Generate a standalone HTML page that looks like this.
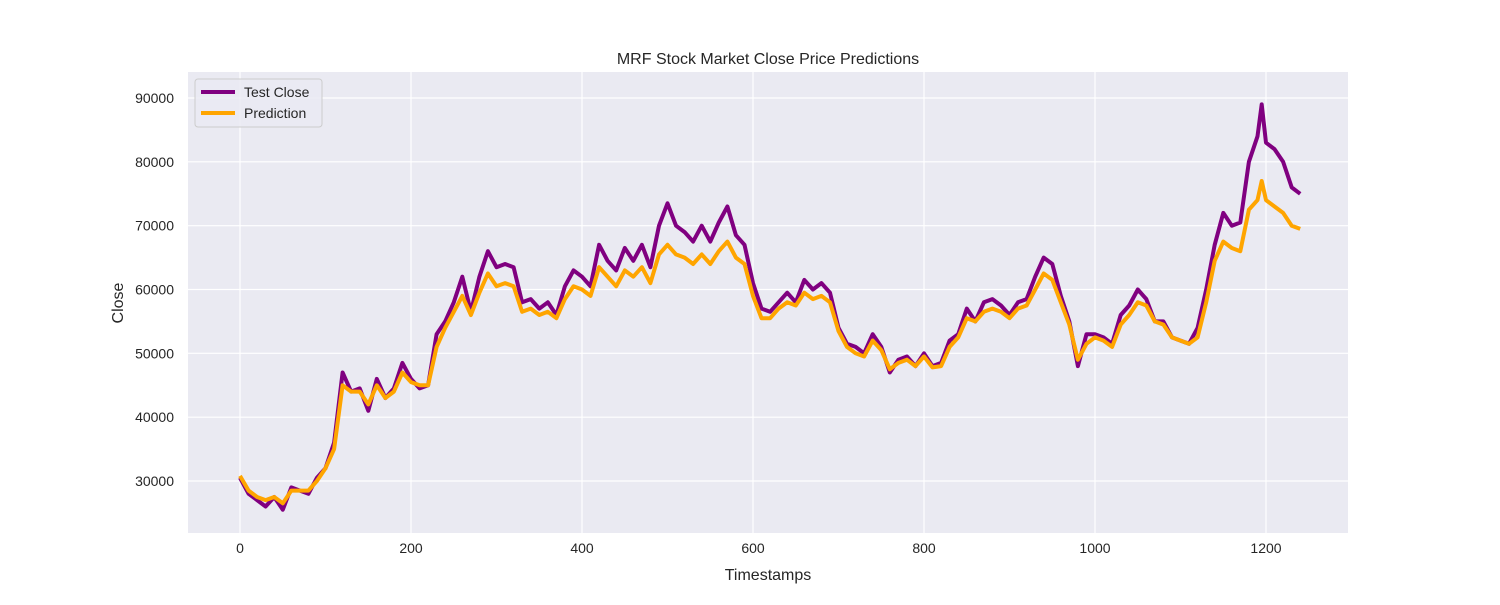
<!DOCTYPE html>
<html><head><meta charset="utf-8"><style>
body{margin:0;background:#fff;font-family:"Liberation Sans","DejaVu Sans",sans-serif}
</style></head><body>
<svg id="chart" width="1500" height="600" font-family="Liberation Sans, DejaVu Sans, sans-serif">
<rect x="188" y="72" width="1160" height="461" fill="#eaeaf2"/>
<g id="grid"></g><g id="series"></g><g id="ticks"></g>
<text x="768" y="64" text-anchor="middle" font-size="16" fill="#262626">MRF Stock Market Close Price Predictions</text>
<text x="768" y="580" text-anchor="middle" font-size="16" fill="#262626">Timestamps</text>
<text transform="translate(123,303) rotate(-90)" text-anchor="middle" font-size="16" fill="#262626">Close</text>
<g>
<rect x="195" y="79" width="127" height="48" rx="3" fill="#eaeaf2" fill-opacity="0.8" stroke="#ccc"/>
<line x1="201" y1="92" x2="235" y2="92" stroke="#800080" stroke-width="4"/>
<text x="244" y="97" font-size="14" fill="#262626">Test Close</text>
<line x1="201" y1="113" x2="235" y2="113" stroke="#ffa500" stroke-width="4"/>
<text x="244" y="118" font-size="14" fill="#262626">Prediction</text>
</g>
</svg>
<script>
const timestamps=[0,10,20,30,40,50,60,70,80,90,100,110,120,130,140,150,160,170,180,190,200,210,220,230,240,250,260,270,280,290,300,310,320,330,340,350,360,370,380,390,400,410,420,430,440,450,460,470,480,490,500,510,520,530,540,550,560,570,580,590,600,610,620,630,640,650,660,670,680,690,700,710,720,730,740,750,760,770,780,790,800,810,820,830,840,850,860,870,880,890,900,910,920,930,940,950,960,970,980,990,1000,1010,1020,1030,1040,1050,1060,1070,1080,1090,1100,1110,1120,1130,1140,1150,1160,1170,1180,1190,1195,1200,1210,1220,1230,1240];
const testClose=[30500,28000,27000,26000,27500,25500,29000,28500,28000,30500,32000,36000,47000,44000,44500,41000,46000,43000,44500,48500,46000,44500,45000,53000,55000,58000,62000,56500,62000,66000,63500,64000,63500,58000,58500,57000,58000,56000,60500,63000,62000,60500,67000,64500,63000,66500,64500,67000,63500,70000,73500,70000,69000,67500,70000,67500,70500,73000,68500,67000,61000,57000,56500,58000,59500,58000,61500,60000,61000,59500,54000,51500,51000,50000,53000,51000,47000,49000,49500,48000,50000,48000,48500,52000,53000,57000,55000,58000,58500,57500,56000,58000,58500,62000,65000,64000,59000,55000,48000,53000,53000,52500,51500,56000,57500,60000,58500,55000,55000,52500,52000,51500,54000,60000,67000,72000,70000,70500,80000,84000,89000,83000,82000,80000,76000,75000];
const prediction=[30800,28500,27500,27000,27500,26500,28500,28500,28500,30000,32000,35000,45000,44000,44000,42000,45000,43000,44000,47000,45500,45000,45000,51000,54000,56500,59000,56000,59500,62500,60500,61000,60500,56500,57000,56000,56500,55500,58500,60500,60000,59000,63500,62000,60500,63000,62000,63500,61000,65500,67000,65500,65000,64000,65500,64000,66000,67500,65000,64000,59000,55500,55500,57000,58000,57500,59500,58500,59000,58000,53500,51000,50000,49500,52000,50500,47500,48500,49000,48000,49500,47800,48000,51000,52500,55500,55000,56500,57000,56500,55500,57000,57500,60000,62500,61500,58000,54500,49000,51500,52500,52000,51000,54500,56000,58000,57500,55000,54500,52500,52000,51500,52500,58000,64500,67500,66500,66000,72500,74000,77000,74000,73000,72000,70000,69500];
const xTicks=[0,200,400,600,800,1000,1200];
const yTicks=[30000,40000,50000,60000,70000,80000,90000];
const NS="http://www.w3.org/2000/svg";
const X=v=>240+v*(1266-240)/1200;
const Y=v=>481-(v-30000)*(481-98)/60000;
const grid=document.getElementById('grid'),ticks=document.getElementById('ticks'),ser=document.getElementById('series');
function mk(tag,attrs,parent){const e=document.createElementNS(NS,tag);for(const k in attrs)e.setAttribute(k,attrs[k]);parent.appendChild(e);return e;}
xTicks.forEach(t=>{
 const l=mk('line',{x1:X(t),x2:X(t),y1:72,y2:533,stroke:'#fff','stroke-width':1.2},grid);
 
 
 const tx=mk('text',{x:X(t),y:553,'text-anchor':'middle','font-size':14,fill:'#262626'},ticks);tx.textContent=t;
 
 
});
yTicks.forEach(t=>{
 const l=mk('line',{x1:188,x2:1348,y1:Y(t),y2:Y(t),stroke:'#fff','stroke-width':1.2},grid);
 
 
 const tx=mk('text',{x:174,y:Y(t)+5,'text-anchor':'end','font-size':14,fill:'#262626'},ticks);tx.textContent=t;
 
 
});
function line(vals,color,name){
 const d=vals.map((v,i)=>(i?'L':'M')+X(timestamps[i]).toFixed(1)+' '+Y(v).toFixed(1)).join('');
 const p=mk('path',{d:d,fill:'none',stroke:color,'stroke-width':4,'stroke-linejoin':'round'},ser);
 
 
}
line(testClose,'#800080','test-close-line');
line(prediction,'#ffa500','prediction-line');
</script>
</body></html>
